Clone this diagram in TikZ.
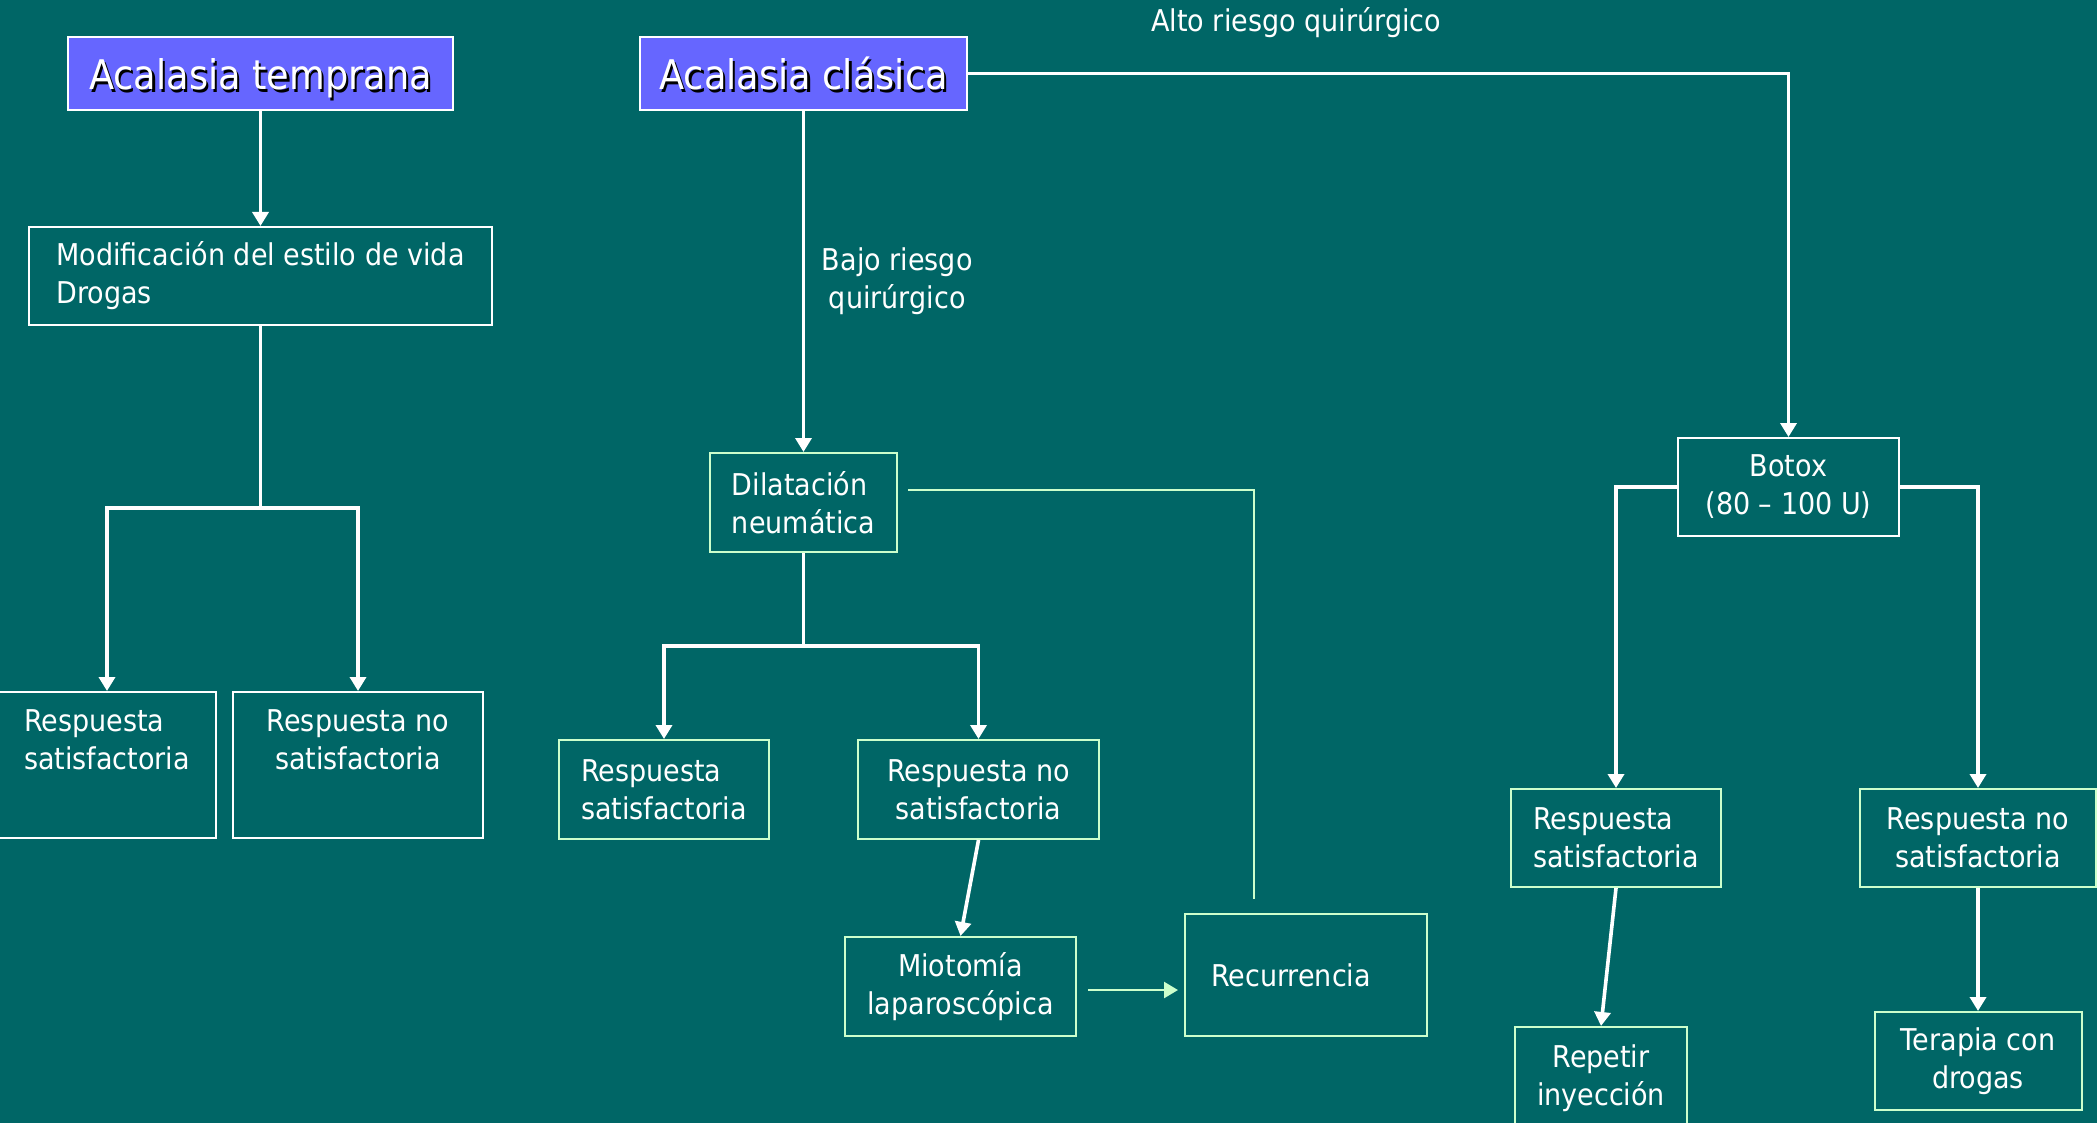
\documentclass[tikz,border=0pt]{standalone}
\usepackage{fontspec}
\setmainfont{DejaVu Sans}[FakeStretch=0.9]
\usepackage{xcolor}
\usepackage{tikz}
\usetikzlibrary{arrows.meta,calc}
\definecolor{slideteal}{HTML}{006666}
\definecolor{titleblue}{HTML}{6666FF}
\definecolor{palegreen}{HTML}{CCFFCC}
\newcommand{\shadowed}[1]{\makebox[0pt][l]{\hspace{1.2pt}\raisebox{-1.2pt}{\color{black}#1}}#1}
\tikzset{
  box/.style={draw=white,line width=1pt,text=white,align=center,inner sep=0pt,font=\fontsize{15}{19}\selectfont},
  gbox/.style={box,draw=palegreen},
  title/.style={draw=white,line width=1pt,fill=titleblue,text=white,inner sep=0pt,text height=26.5pt,text depth=10pt,font=\fontsize{20.4}{24}\selectfont},
  lbl/.style={text=white,align=center,font=\fontsize{15}{19}\selectfont},
  arr/.style={-{Triangle[length=7pt,width=8pt]},line width=1.8pt,white},
  thk/.style={line width=1.8pt,white},
  garr/.style={-{Triangle[length=7pt,width=8pt]},line width=1.2pt,palegreen},
  gline/.style={line width=0.8pt,palegreen},
}

\begin{document}
\begin{tikzpicture}[x=0.5pt,y=-0.5pt]
\fill[slideteal] (0,0) rectangle (2097,1123);
\useasboundingbox (0,0) rectangle (2097,1123);
\node[title,minimum width=192.5pt] (temprana) at (260.5,73.5) {\shadowed{Acalasia temprana}};
\node[title,minimum width=163.5pt] (clasica) at (803.5,73.5) {\shadowed{Acalasia clásica}};
\node[box,align=left,minimum width=231.5pt,minimum height=49pt] (vida) at (260.5,276) {Modificación del estilo de vida\\Drogas};
\node[box,align=left,minimum width=109pt,text height=38.5pt,text depth=34.5pt] (lsat) at (107,765) {Respuesta\\satisfactoria};
\node[box,minimum width=125pt,text height=38.5pt,text depth=34.5pt] (lno) at (358,765) {Respuesta no\\satisfactoria};
\node[gbox,align=left,minimum width=93.5pt,minimum height=49.5pt] (dil) at (803.5,502.5) {Dilatación\\neumática};
\node[gbox,align=left,minimum width=105pt,minimum height=49.5pt] (msat) at (664,789.5) {Respuesta\\satisfactoria};
\node[gbox,minimum width=120.5pt,minimum height=49.5pt] (mno) at (978.5,789.5) {Respuesta no\\satisfactoria};
\node[gbox,minimum width=115.5pt,minimum height=49.5pt] (mio) at (960.5,986.5) {Miotomía\\laparoscópica};
\node[gbox,align=left,text width=95pt,minimum width=121pt,minimum height=61pt] (rec) at (1306,975) {Recurrencia};
\node[box,minimum width=110.5pt,minimum height=49pt] (botox) at (1788.5,487) {Botox\\(80 – 100 U)};
\node[gbox,align=left,minimum width=105pt,minimum height=49pt] (rsat) at (1616,838) {Respuesta\\satisfactoria};
\node[gbox,minimum width=118pt,minimum height=49pt] (rno) at (1978,838) {Respuesta no\\satisfactoria};
\node[gbox,minimum width=86pt,minimum height=51pt] (rep) at (1601,1078) {Repetir\\inyección};
\node[gbox,minimum width=103.5pt,minimum height=49pt] (ter) at (1978,1061) {Terapia con\\drogas};
\coordinate (vj) at (260.5,508);
\coordinate (dj) at (803.5,646);
\coordinate (recup) at (1254,899);
\draw[arr] (temprana) -- (vida);
\draw[thk] (vida) -- (vj);
\draw[arr] (vj) -| (lsat);
\draw[arr] (vj) -| (lno);
\draw[arr] (clasica) -- node[lbl,right=5pt] {Bajo riesgo\\quirúrgico} (dil);
\draw[arr] (clasica) -| node[lbl,pos=0.2,yshift=25.5pt] {Alto riesgo quirúrgico} (botox);
\draw[thk] (dil) -- (dj);
\draw[arr] (dj) -| (msat);
\draw[arr] (dj) -| (mno);
\draw[gline] ([xshift=5pt,yshift=6.25pt]dil.east) -| (recup);
\draw[arr] (mno.south) -- (mio.north);
\draw[garr] ($(mio.east)+(5.5pt,-1.75pt)$) -- ($(mio.east -| rec.west)+(-3pt,-1.75pt)$);
\draw[arr] (botox) -| (rsat);
\draw[arr] (botox) -| (rno);
\draw[arr] (rsat.south) -- (rep.north);
\draw[arr] (rno.south) -- (ter.north);
\end{tikzpicture}
\end{document}
